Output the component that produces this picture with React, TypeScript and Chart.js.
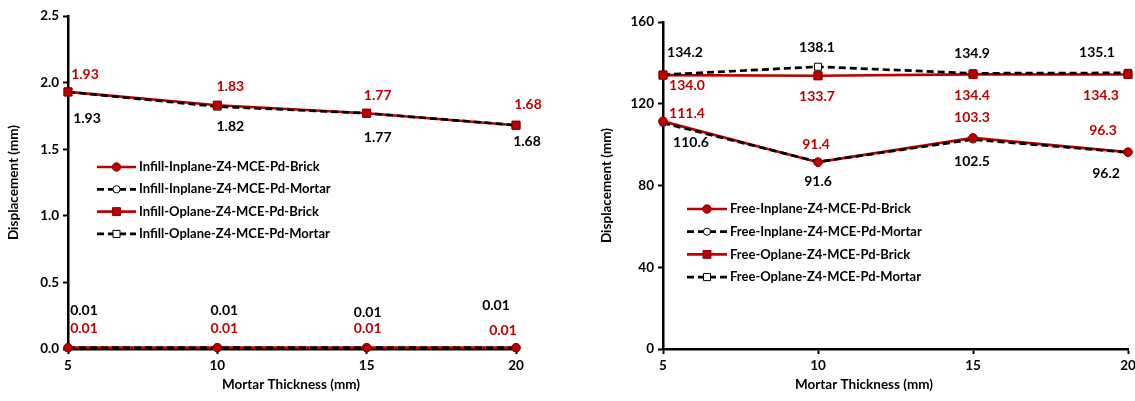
import React, { useEffect, useRef } from "react";
import { Chart, registerables } from "chart.js";

Chart.register(...registerables);

// ---------- data ----------
const thickness = [5, 10, 15, 20];

const infillInplaneBrick = [0.01, 0.01, 0.01, 0.01];
const infillInplaneMortar = [0.01, 0.01, 0.01, 0.01];
const infillOplaneBrick = [1.93, 1.83, 1.77, 1.68];
const infillOplaneMortar = [1.93, 1.82, 1.77, 1.68];

const freeInplaneBrick = [111.4, 91.4, 103.3, 96.3];
const freeInplaneMortar = [110.6, 91.6, 102.5, 96.2];
const freeOplaneBrick = [134.0, 133.7, 134.4, 134.3];
const freeOplaneMortar = [134.2, 138.1, 134.9, 135.1];

const infillNames = [
  "Infill-Inplane-Z4-MCE-Pd-Brick",
  "Infill-Inplane-Z4-MCE-Pd-Mortar",
  "Infill-Oplane-Z4-MCE-Pd-Brick",
  "Infill-Oplane-Z4-MCE-Pd-Mortar",
];
const freeNames = [
  "Free-Inplane-Z4-MCE-Pd-Brick",
  "Free-Inplane-Z4-MCE-Pd-Mortar",
  "Free-Oplane-Z4-MCE-Pd-Brick",
  "Free-Oplane-Z4-MCE-Pd-Mortar",
];

const xTitle = "Mortar Thickness (mm)";
const yTitle = "Displacement (mm)";

// ---------- label placement (pixel offsets from each point) ----------
const infillLabelOffsets = [
  [[16, -19], [7, -19], [1, -19], [-13, -17]],
  [[16, -37], [7, -37], [1, -35], [-20, -42]],
  [[17, -17], [13, -19], [11, -18], [12, -21]],
  [[19, 27], [13, 20], [11, 24], [11, 16]],
];
const freeLabelOffsets = [
  [[24, -8], [-2, -18], [-1, -20], [-25, -22]],
  [[28, 20], [0, 20], [-1, 22], [-22, 21]],
  [[24, 10], [-1, 21], [-1, 21], [-27, 21]],
  [[22, -22], [-1, -19], [-1, -20], [-31, -20]],
];

// ---------- styles ----------
const RED = "#C00000";
const RED_DARK = "#8B0000";
const FONT = "Lato, 'Open Sans', sans-serif";

function makeDatasets(series: number[][], names: string[]) {
  const kinds = [
    { brick: true, style: "circle" },
    { brick: false, style: "circle" },
    { brick: true, style: "rect" },
    { brick: false, style: "rect" },
  ];
  const orders = [4, 2, 3, 1];
  return series.map((vals, i) => {
    const k = kinds[i];
    const radius = k.style === "circle" ? (k.brick ? 4.2 : 3.6) : k.brick ? 5.6 : 5.0;
    return {
      label: names[i],
      data: vals.map((v, j) => ({ x: thickness[j], y: v })),
      borderColor: k.brick ? RED : "#000",
      borderWidth: 2.7,
      borderDash: k.brick ? [] : [7, 4],
      pointStyle: k.style,
      pointRadius: radius,
      pointBackgroundColor: k.brick ? RED : "#fff",
      pointBorderColor: k.brick ? RED_DARK : "#000",
      pointBorderWidth: 1,
      tension: 0,
      clip: false,
      order: orders[i],
    };
  });
}

const overlayPlugin = {
  id: "overlay",
  afterDatasetsDraw(chart: any, _args: any, opts: any) {
    const ctx = chart.ctx;
    // brick markers on top of everything
    [0, 2].forEach((i) => {
      const meta = chart.getDatasetMeta(i);
      meta.data.forEach((p: any) => p.draw(ctx, undefined));
    });
    ctx.save();
    ctx.font = `bold 14px ${FONT}`;
    ctx.textAlign = "center";
    ctx.textBaseline = "middle";
    chart.data.datasets.forEach((ds: any, i: number) => {
      const meta = chart.getDatasetMeta(i);
      const offs = opts.offsets[i];
      ctx.fillStyle = i % 2 === 0 ? RED : "#000";
      meta.data.forEach((p: any, j: number) => {
        const v = ds.data[j].y;
        ctx.fillText(v.toFixed(opts.decimals), p.x + offs[j][0], p.y + offs[j][1]);
      });
    });
    ctx.restore();
  },
  afterDraw(chart: any, _args: any, opts: any) {
    const ctx = chart.ctx;
    ctx.save();
    // x axis title
    ctx.font = `bold 13.5px ${FONT}`;
    ctx.fillStyle = "#000";
    ctx.textAlign = "center";
    ctx.textBaseline = "middle";
    ctx.fillText(opts.xTitle, opts.xTitleX, opts.xTitleY);
    // legend
    const L = opts.legend;
    chart.data.datasets.forEach((ds: any, i: number) => {
      const y = L.y + i * L.rowH;
      ctx.save();
      ctx.strokeStyle = ds.borderColor;
      ctx.lineWidth = ds.borderWidth;
      ctx.setLineDash(ds.borderDash || []);
      ctx.beginPath();
      ctx.moveTo(L.x, y);
      ctx.lineTo(L.x + L.w, y);
      ctx.stroke();
      ctx.setLineDash([]);
      const cx = L.x + L.w / 2;
      ctx.fillStyle = ds.pointBackgroundColor;
      ctx.strokeStyle = ds.pointBorderColor;
      ctx.lineWidth = 1;
      ctx.beginPath();
      if (ds.pointStyle === "circle") {
        ctx.arc(cx, y, ds.pointRadius, 0, Math.PI * 2);
      } else {
        const s = ds.pointRadius * Math.SQRT1_2;
        ctx.rect(cx - s, y - s, 2 * s, 2 * s);
      }
      ctx.fill();
      ctx.stroke();
      ctx.restore();
      ctx.font = `bold 13px ${FONT}`;
      ctx.fillStyle = "#000";
      ctx.textAlign = "left";
      ctx.textBaseline = "middle";
      ctx.fillText(ds.label, L.x + L.w + L.gap, y);
    });
    ctx.restore();
  },
};

function makeConfig(p: {
  datasets: any[];
  yMax: number;
  yStep: number;
  yDecimals: number;
  padTop: number;
  padRight: number;
  yWidth: number;
  yTitlePad: number;
  offsets: number[][][];
  labelDecimals: number;
  xTitleX: number;
  legend: any;
}) {
  const tickFont = { family: FONT, size: 13.5, weight: "bold" as const };
  return {
    type: "line" as const,
    data: { datasets: p.datasets },
    plugins: [overlayPlugin],
    options: {
      animation: false as const,
      responsive: false,
      maintainAspectRatio: false,
      layout: { padding: { top: p.padTop, right: p.padRight, bottom: 0, left: 0 } },
      plugins: {
        legend: { display: false },
        tooltip: { enabled: false },
        overlay: {
          offsets: p.offsets,
          decimals: p.labelDecimals,
          xTitle,
          xTitleX: p.xTitleX,
          xTitleY: 385,
          legend: p.legend,
        },
      },
      scales: {
        x: {
          type: "linear" as const,
          min: 5,
          max: 20,
          ticks: { stepSize: 5, color: "#000", font: tickFont, padding: 4 },
          grid: { drawOnChartArea: false, tickLength: 5, tickColor: "#000", tickWidth: 2 },
          border: { color: "#000", width: 2.5 },
          afterFit: (s: any) => {
            s.height = 52;
            s.paddingRight = 0;
            s.paddingLeft = 0;
          },
        },
        y: {
          type: "linear" as const,
          min: 0,
          max: p.yMax,
          ticks: {
            stepSize: p.yStep,
            color: "#000",
            font: tickFont,
            padding: 4,
            callback: (v: any) => Number(v).toFixed(p.yDecimals),
          },
          grid: { drawOnChartArea: false, tickLength: 5, tickColor: "#000", tickWidth: 2 },
          border: { color: "#000", width: 2.5 },
          title: {
            display: true,
            text: yTitle,
            color: "#000",
            font: { family: FONT, size: 13.5, weight: "bold" as const },
            padding: { top: p.yTitlePad, bottom: 0 },
          },
          afterFit: (s: any) => {
            s.width = p.yWidth;
          },
        },
      },
    },
  };
}

function ChartCanvas({ config, width, height, left }: any) {
  const ref = useRef<HTMLCanvasElement | null>(null);
  useEffect(() => {
    if (!ref.current) return;
    const chart = new Chart(ref.current, config);
    return () => chart.destroy();
  }, []);
  return (
    <canvas
      ref={ref}
      width={width}
      height={height}
      style={{ position: "absolute", left, top: 0, width, height, display: "block" }}
    />
  );
}

export default function App() {
  const leftConfig = makeConfig({
    datasets: makeDatasets(
      [infillInplaneBrick, infillInplaneMortar, infillOplaneBrick, infillOplaneMortar],
      infillNames
    ),
    yMax: 2.5,
    yStep: 0.5,
    yDecimals: 1,
    padTop: 16,
    padRight: 44,
    yWidth: 68,
    yTitlePad: 6,
    offsets: infillLabelOffsets,
    labelDecimals: 2,
    xTitleX: 291,
    legend: { x: 97, y: 167, rowH: 22.3, w: 39, gap: 3 },
  });
  const rightConfig = makeConfig({
    datasets: makeDatasets(
      [freeInplaneBrick, freeInplaneMortar, freeOplaneBrick, freeOplaneMortar],
      freeNames
    ),
    yMax: 160,
    yStep: 40,
    yDecimals: 0,
    padTop: 22,
    padRight: 7,
    yWidth: 103,
    yTitlePad: 39,
    offsets: freeLabelOffsets,
    labelDecimals: 1,
    xTitleX: 864 - 560,
    legend: { x: 687 - 560, y: 209, rowH: 22.7, w: 40, gap: 3 },
  });
  return (
    <div
      style={{
        position: "absolute",
        left: 0,
        top: 0,
        width: 1135,
        height: 401,
        background: "#fff",
        overflow: "hidden",
      }}
    >
      <ChartCanvas config={leftConfig} width={560} height={401} left={0} />
      <ChartCanvas config={rightConfig} width={575} height={401} left={560} />
    </div>
  );
}
